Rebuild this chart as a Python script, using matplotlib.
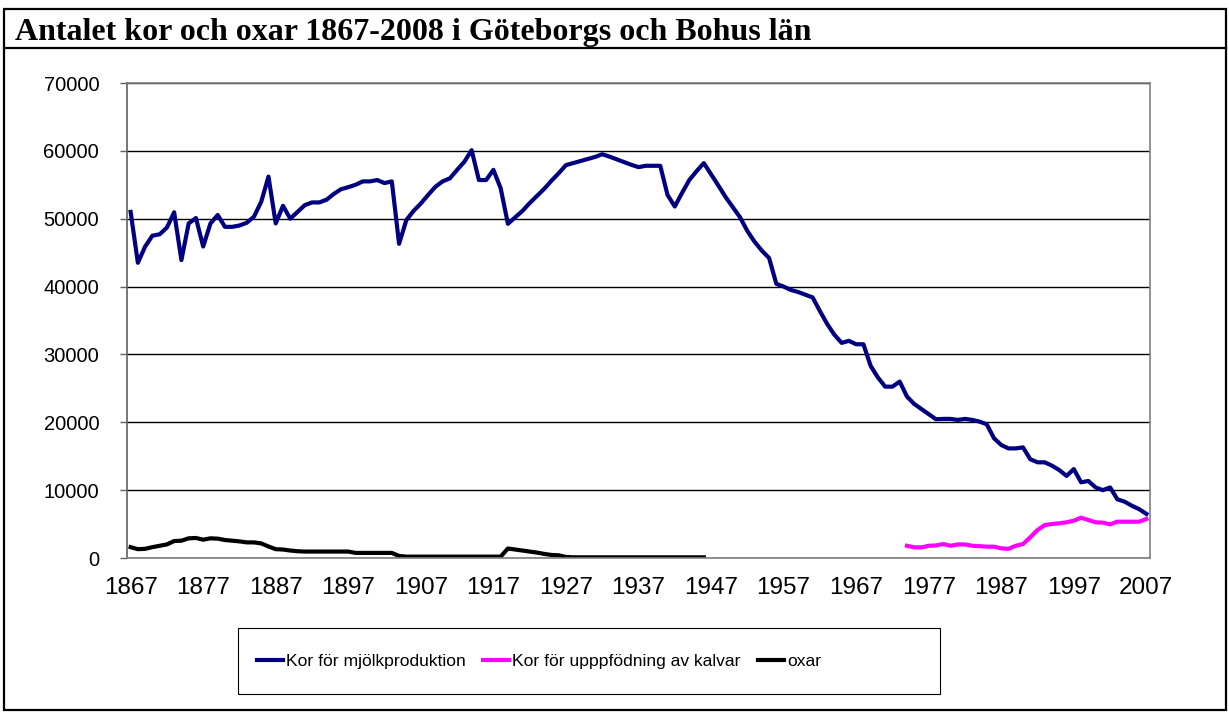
import matplotlib
matplotlib.use("Agg")
import matplotlib.pyplot as plt
from matplotlib.lines import Line2D
from matplotlib.patches import Rectangle

# Data
years = list(range(1867, 2008))

mjolk = [
    51000, 43500, 45900, 47500, 47700, 48700, 50950, 43900, 49300, 50100,  # 1867-1876
    45900, 49300, 50550, 48800, 48800, 49000, 49400, 50300, 52500, 56200,  # 1877-1886
    49300, 51900, 50000, 51000, 52000, 52400, 52400, 52800, 53650, 54350,  # 1887-1896
    54650, 55000, 55500, 55500, 55700, 55250, 55500, 46300, 49800, 51150,  # 1897-1906
    52250, 53500, 54700, 55500, 55950, 57200, 58400, 60100, 55700, 55700,  # 1907-1916
    57200, 54500, 49250, 50200, 51150, 52300, 53350, 54400, 55600, 56700,  # 1917-1926
    57900, 58200, 58500, 58800, 59100, 59500, 59150, 58750, 58350, 57950,  # 1927-1936
    57600, 57800, 57800, 57800, 53500, 51800, 53800, 55700, 57000, 58200,  # 1937-1946
    56550, 54900, 53200, 51700, 50200, 48200, 46600, 45300, 44200, 40400,  # 1947-1956
    40000, 39500, 39200, 38800, 38400, 36400, 34500, 32900, 31700, 32000,  # 1957-1966
    31500, 31500, 28300, 26600, 25250, 25250, 26000, 23800, 22700, 21950,  # 1967-1976
    21200, 20450, 20500, 20500, 20350, 20500, 20350, 20100, 19700, 17650,  # 1977-1986
    16650, 16150, 16150, 16300, 14550, 14100, 14100, 13600, 12950, 12100,  # 1987-1996
    13100, 11150, 11350, 10400, 10000, 10400, 8650, 8300, 7700, 7200,      # 1997-2006
    6500,                                                                  # 2007
]

kalv_years = list(range(1974, 2008))
kalvar = [
    1800, 1570, 1570, 1800, 1850, 2060, 1800, 2000, 2000, 1800,  # 1974-1983
    1750, 1670, 1670, 1420, 1350, 1800, 2060, 3050, 4130, 4860,  # 1984-1993
    5010, 5110, 5260, 5500, 5940, 5600, 5260, 5210, 4960, 5350,  # 1994-2003
    5350, 5350, 5350, 5750,                                      # 2004-2007
]

oxar_years = list(range(1867, 1947))
oxar = [
    1600, 1300, 1350, 1600, 1800, 2000, 2500, 2550, 2900, 2950,  # 1867-1876
    2700, 2900, 2850, 2650, 2550, 2450, 2300, 2300, 2150, 1700,  # 1877-1886
    1300, 1250, 1100, 1000, 950, 950, 950, 950, 950, 950,        # 1887-1896
    950, 750, 750, 750, 750, 750, 750, 300, 200, 200,            # 1897-1906
    200, 200, 200, 200, 200, 200, 200, 200, 200, 200,            # 1907-1916
    200, 200, 1400, 1250, 1100, 950, 800, 600, 450, 400,         # 1917-1926
    150, 100, 100, 100, 100, 100, 100, 100, 100, 100,            # 1927-1936
    100, 100, 100, 100, 100, 100, 100, 100, 100, 100,            # 1937-1946
]

labels = ["Kor för mjölkproduktion", "Kor för upppfödning av kalvar", "oxar"]
colors = ["#000080", "#FF00FF", "#000000"]
yticks = list(range(0, 70001, 10000))
xticks = list(range(1867, 2008, 10))

fig = plt.figure(figsize=(12.29, 7.13), dpi=100)
W, H = 1229, 713

# outer frame and title row
fig.patches.append(Rectangle((4 / W, 3 / H), 1222 / W, 701 / H, transform=fig.transFigure,
                             fill=False, edgecolor="black", linewidth=1.6))
fig.lines.append(Line2D([4 / W, 1226 / W], [1 - 48 / H, 1 - 48 / H], transform=fig.transFigure,
                        color="black", linewidth=1.6))
fig.text(15 / W, 1 - 40 / H, "Antalet kor och oxar 1867-2008 i Göteborgs och Bohus län",
         family="Liberation Serif", fontweight="bold", fontsize=23, va="baseline", ha="left")

ax = fig.add_axes([127 / W, 1 - 558 / H, 1023 / W, 475 / H])

lw = 3.0
ax.plot(years, mjolk, color=colors[0], linewidth=lw, label=labels[0], solid_joinstyle="round")
ax.plot(kalv_years, kalvar, color=colors[1], linewidth=lw, label=labels[1], solid_joinstyle="round")
ax.plot(oxar_years, oxar, color=colors[2], linewidth=lw, label=labels[2], solid_joinstyle="round")

ax.set_xlim(1866.5, 2007.5)
ax.set_ylim(0, 70000)
ax.set_yticks(yticks)
ax.set_xticks(xticks)
ax.set_xticklabels([str(y) for y in xticks])
ax.grid(axis="y", color="black", linewidth=1.0)
ax.set_axisbelow(True)

for side in ["top", "right", "bottom"]:
    ax.spines[side].set_color("#808080")
    ax.spines[side].set_linewidth(1.2)
ax.spines["left"].set_color("#606060")
ax.spines["left"].set_linewidth(1.2)

ax.tick_params(axis="y", length=5, width=1, color="#606060", pad=15,
               labelsize=14.5, labelfontfamily="Liberation Sans")
ax.tick_params(axis="x", length=0, pad=14, labelsize=17.5, labelfontfamily="Liberation Sans")

# legend box drawn separately (Excel-style wide box), entries placed inside
fig.patches.append(Rectangle((238 / W, 1 - 694 / H), 702 / W, 66 / H, transform=fig.transFigure,
                             fill=False, edgecolor="black", linewidth=0.8))
leg = fig.legend(loc="center left", bbox_to_anchor=(243 / W, 1 - 661 / H), ncol=3,
                 frameon=False, handlelength=1.5, handletextpad=0.15, columnspacing=1.0,
                 borderpad=0.3, prop={"family": "Liberation Sans", "size": 12.6})

fig.savefig("out.png", dpi=100)
